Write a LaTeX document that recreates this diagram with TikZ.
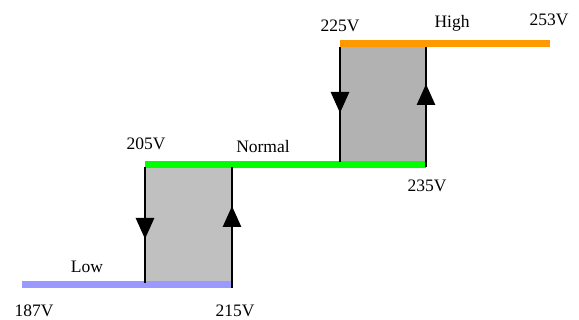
\documentclass[tikz,border=0pt]{standalone}
\usepackage{fontspec}
\setmainfont{Liberation Serif}
\usetikzlibrary{arrows.meta}
\definecolor{lowc}{HTML}{9999FF}
\definecolor{normc}{HTML}{00FF00}
\definecolor{highc}{HTML}{FF9900}
\definecolor{grayA}{HTML}{C0C0C0}
\definecolor{grayB}{HTML}{B2B2B2}
\tikzset{
  level/.style={line width=7pt},
  edge/.style={line width=2.8pt, black},
  tip/.style={-{Triangle[width=18pt,length=21pt]}, line width=2.8pt, black},
  lbl/.style={font=\fontsize{17.5}{17.5}\selectfont, anchor=base, inner sep=0pt}
}
\begin{document}
\begin{tikzpicture}[x=1pt,y=-1pt]
\useasboundingbox (0,0) rectangle (579,320);
% gray hysteresis areas
\fill[grayA] (145,165) rectangle (232,285);
\fill[grayB] (340,44) rectangle (426,165);
% level lines
\draw[level, lowc] (22,285) -- (232,285);
\draw[level, normc] (145,164.5) -- (426,164.5);
\draw[level, highc] (340,44) -- (550,44);
% vertical edges
\draw[edge] (145,167) -- (145,283);
\draw[edge] (232,167) -- (232,288);
\draw[edge] (340,47) -- (340,162);
\draw[edge] (426,47) -- (426,167);
% arrows
\draw[tip] (145,215) -- (145,239);
\draw[tip] (232,230) -- (232,206);
\draw[tip] (340,89) -- (340,113);
\draw[tip] (426,109) -- (426,84);
% labels
\node[lbl] (v187) at (34,317) {187V};
\node[lbl] (v215) at (235,317) {215V};
\node[lbl] (low) at (87,273) {Low};
\node[lbl] (v205) at (146,150) {205V};
\node[lbl] (normal) at (263,153) {Normal};
\node[lbl] (v235) at (427,192) {235V};
\node[lbl] (v225) at (340,32) {225V};
\node[lbl] (high) at (452,28) {High};
\node[lbl] (v253) at (549,26) {253V};
\end{tikzpicture}
\end{document}
